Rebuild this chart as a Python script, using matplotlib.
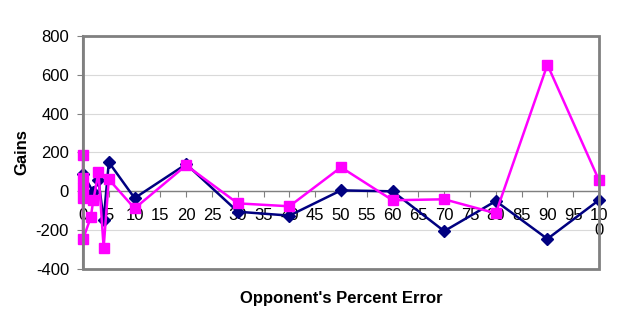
import matplotlib
matplotlib.use("Agg")
import matplotlib.pyplot as plt
from matplotlib.patches import Rectangle

plt.rcParams['font.family'] = ['Liberation Sans', 'DejaVu Sans']

# data
navy_x = [0, 2, 3, 4, 5, 10, 20, 30, 40, 50, 60, 70, 80, 90, 100]
navy_y = [90, -5, 60, -150, 150, -35, 140, -105, -125, 5, 0, -205, -50, -245, -45]

pink_x = [0, 0, 0, 0, 0, 1.5, 2, 3, 4, 5, 10, 20, 30, 40, 50, 60, 70, 80, 90, 100]
pink_y = [186, 67, 15, -36, -247, -134, -46, 98, -290, 62, -88, 134, -62, -77, 124, -46, -41, -113, 652, 57]

xticks = list(range(0, 101, 5))
xlabels = [str(t) for t in xticks[:-1]] + ['10\n0']
yticks = list(range(-400, 801, 200))

fig = plt.figure(figsize=(6.33, 3.19), dpi=100)
ax = fig.add_axes([83/633, 1 - 269/319, (599 - 83)/633, (269 - 36)/319])

ax.set_xlim(0, 100)
ax.set_ylim(-400, 800)

for y in yticks[1:-1]:
    ax.axhline(y, color='#d9d9d9', lw=0.8, zorder=0)

ax.plot(navy_x, navy_y, color='#000080', lw=1.8, marker='D', ms=6.5, zorder=3, clip_on=False)
ax.plot(pink_x, pink_y, color='#ff00ff', lw=1.8, marker='s', ms=7, zorder=4, clip_on=False)

for s in ['top', 'right']:
    ax.spines[s].set_visible(False)
ax.spines['left'].set_color('#808080')
ax.spines['left'].set_linewidth(1.5)
ax.spines['bottom'].set_position(('data', 0))
ax.spines['bottom'].set_color('#808080')
ax.spines['bottom'].set_linewidth(1.0)
ax.add_patch(Rectangle((0, 0), 1, 1, transform=ax.transAxes, fill=False,
                       edgecolor='#808080', lw=2, zorder=5, clip_on=False))

ax.set_xticks(xticks)
ax.set_xticklabels(xlabels, fontsize=12, linespacing=1.0)
ax.set_yticks(yticks)
ax.set_yticklabels([str(t) for t in yticks], fontsize=12)
ax.tick_params(axis='x', direction='out', length=4, color='#808080', pad=8)
ax.tick_params(axis='y', direction='out', length=4, color='#808080', pad=6)
for lab in ax.get_xticklabels():
    lab.set_verticalalignment('top')

fig.text(22/633, 1 - 152/319, 'Gains', rotation=90, fontsize=12, fontweight='bold',
         ha='center', va='center')
fig.text(341/633, 1 - 298/319, "Opponent's Percent Error", fontsize=12, fontweight='bold',
         ha='center', va='center')

fig.savefig('out.png', dpi=100)
